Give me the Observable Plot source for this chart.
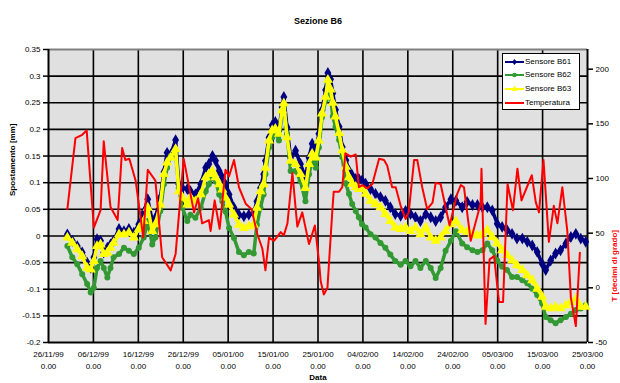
<!DOCTYPE html>
<html><head><meta charset="utf-8">
<script src="https://cdn.jsdelivr.net/npm/d3@7"></script>
<script src="https://cdn.jsdelivr.net/npm/@observablehq/plot@0.6"></script>
<style>
body{margin:0;background:#fff;font-family:"Liberation Sans",Arial,sans-serif;}
#wrap{position:relative;width:620px;height:383px;}
#legend{position:absolute;left:502px;top:53px;width:76px;height:55px;background:#fff;border:1.5px solid #000;}
.row{position:absolute;left:0;height:12px;width:76px;font-size:8px;line-height:12px;color:#000;}
.row svg{position:absolute;left:1px;top:0;}
.row span{position:absolute;left:22px;top:0;white-space:nowrap;}
</style></head><body><div id="wrap"><div id="legend"></div></div>
<script>
// ---- data (days since 26/11/99) ----
const sensorDays = [4.2,5.3,6.4,7.5,8.6,9.4,10.1,10.8,11.6,12.3,13.1,13.8,14.5,15.7,16.8,17.9,19.0,20.1,21.2,22.1,23.1,23.8,24.9,25.7,26.4,27.2,28.3,29.0,29.8,30.9,
31.6,32.7,33.9,35.0,35.7,36.5,37.2,38.0,38.7,39.4,40.2,41.3,42.4,43.5,44.6,45.7,46.4,47.2,47.9,48.3,49.1,49.8,50.5,51.3,52.0,52.4,53.1,53.9,55.0,56.1,57.2,58.0,58.7,59.5,60.2,60.9,61.7,
62.2,62.8,63.3,63.9,64.7,65.4,66.2,66.9,67.6,68.4,69.1,69.8,70.6,71.7,72.8,73.9,75.0,76.1,77.2,78.4,79.5,80.6,81.7,82.8,84.0,85.1,86.2,87.3,88.4,89.6,90.7,
92.1,93.2,94.4,95.5,96.6,97.7,98.8,99.9,101.0,102.1,103.2,104.3,105.5,106.6,107.7,108.8,109.9,110.7,111.8,112.9,114.0,115.2,116.3,117.4,118.5,119.6];
const b61 = [0.003,-0.009,-0.019,-0.031,-0.050,-0.060,-0.040,-0.006,-0.009,-0.031,-0.022,-0.016,-0.009,0.013,0.009,0.013,0.006,0.022,0.044,0.069,0.028,0.034,0.072,0.120,0.156,0.153,0.180,0.097,0.090,0.088,
0.084,0.078,0.097,0.128,0.135,0.150,0.141,0.122,0.110,0.097,0.078,0.053,0.040,0.037,0.040,0.043,0.065,0.090,0.116,0.141,0.185,0.208,0.214,0.198,0.242,0.261,0.204,0.147,0.160,0.135,0.110,0.147,0.173,0.160,0.192,0.236,0.274,
0.306,0.294,0.268,0.237,0.205,0.167,0.142,0.123,0.114,0.107,0.107,0.104,0.098,0.088,0.079,0.073,0.066,0.054,0.041,0.038,0.047,0.041,0.035,0.028,0.041,0.035,0.028,0.035,0.054,0.069,0.066,
0.054,0.064,0.058,0.058,0.054,0.054,0.048,0.023,0.017,0.011,0.004,-0.005,-0.005,-0.011,-0.018,-0.030,-0.052,-0.064,-0.046,-0.033,-0.027,-0.014,-0.002,0.004,-0.005,-0.011];
const b62 = [-0.019,-0.040,-0.053,-0.072,-0.090,-0.106,-0.097,-0.060,-0.047,-0.060,-0.078,-0.060,-0.040,-0.034,-0.022,-0.028,-0.034,-0.022,-0.003,0.028,-0.016,-0.003,0.047,0.097,0.128,0.150,0.159,0.090,0.053,0.028,
0.040,0.034,0.053,0.084,0.097,0.110,0.103,0.078,0.065,0.046,0.015,-0.004,-0.030,-0.036,-0.030,-0.033,0.021,0.053,0.078,0.116,0.166,0.185,0.195,0.179,0.230,0.242,0.192,0.122,0.122,0.103,0.065,0.116,0.141,0.128,0.166,0.223,0.255,
0.288,0.262,0.224,0.205,0.180,0.148,0.098,0.079,0.060,0.047,0.035,0.022,0.016,0.003,-0.003,-0.013,-0.022,-0.035,-0.047,-0.054,-0.047,-0.057,-0.047,-0.060,-0.047,-0.060,-0.079,-0.060,-0.028,-0.009,0.009,
-0.014,-0.021,-0.027,-0.030,-0.027,-0.014,-0.027,-0.046,-0.058,-0.064,-0.077,-0.077,-0.083,-0.089,-0.099,-0.111,-0.127,-0.152,-0.158,-0.164,-0.158,-0.152,-0.146,-0.139,-0.136,-0.130];
const b63 = [-0.003,-0.013,-0.025,-0.038,-0.060,-0.063,-0.047,-0.019,-0.016,-0.034,-0.031,-0.022,-0.013,0.003,0.003,0.006,-0.003,0.013,0.028,0.053,0.009,0.022,0.059,0.116,0.138,0.147,0.163,0.084,0.072,0.059,
0.072,0.065,0.078,0.110,0.116,0.122,0.110,0.097,0.087,0.072,0.059,0.040,0.021,0.015,0.018,0.021,0.053,0.084,0.097,0.128,0.179,0.198,0.201,0.192,0.236,0.249,0.185,0.141,0.135,0.116,0.090,0.135,0.154,0.147,0.179,0.230,0.261,
0.293,0.275,0.250,0.224,0.193,0.161,0.130,0.110,0.098,0.092,0.088,0.088,0.079,0.066,0.060,0.054,0.041,0.028,0.016,0.013,0.016,0.009,0.016,0.003,0.016,-0.003,-0.009,-0.003,0.009,0.022,0.028,
0.011,0.008,0.004,0.001,0.004,0.011,-0.002,-0.014,-0.027,-0.036,-0.046,-0.055,-0.064,-0.074,-0.083,-0.099,-0.114,-0.133,-0.136,-0.133,-0.136,-0.130,-0.124,-0.118,-0.133,-0.133];
const tempDays = [4.2,6.0,7.5,8.5,10.1,11.6,12.3,13.8,15.4,16.4,17.1,18.0,19.4,21.1,22.1,23.8,25.3,27.2,28.3,30.1,32.4,33.3,34.2,35.7,36.1,37.0,38.1,39.4,40.2,41.3,42.4,43.9,45.2,46.5,47.6,48.3,49.1,50.2,51.7,52.4,53.2,54.3,55.4,56.5,58.0,59.3,60.2,60.6,61.3,62.1,63.2,63.5,64.7,65.4,66.1,67.3,68.4,69.1,69.9,71.0,72.1,73.6,74.7,75.4,76.5,77.3,78.4,79.5,80.2,81.4,82.1,83.2,84.3,85.5,86.2,87.3,88.4,89.3,91.0,91.8,92.5,94.0,95.1,96.2,96.4,97.3,98.2,99.2,100.3,101.2,102.2,103.4,104.4,105.3,106.5,107.6,108.5,109.2,110.2,111.4,112.5,113.3,114.4,115.5,116.3,117.4,118.3];
const tempValues = [72,137,140,144,55,71,134,74,62,128,117,118,98,46,108,98,28,16,31,118,69,82,59,62,52,80,54,108,102,117,92,77,72,49,36,16,46,43,51,48,59,105,56,69,40,57,25,6,-6,0,71,88,88,92,123,120,122,92,94,91,95,118,117,112,92,92,75,63,69,117,117,92,72,78,96,95,74,57,86,94,92,43,60,77,109,-33,26,29,-13,-13,95,71,109,80,92,103,78,69,117,42,75,59,92,52,-9,-35,32];
const yTicks = [-0.2,-0.15,-0.1,-0.05,0,0.05,0.1,0.15,0.2,0.25,0.3,0.35];
const tTicks = [-50,0,50,100,150,200];
const xTickDays = [0,10,20,30,40,50,60,70,80,90,100,110,120];
const seriesNames = ["Sensore B61","Sensore B62","Sensore B63","Temperatura"];
const colors = ["#000080","#339933","#ffff00","#ff0000"];

// ---- helpers ----
const t0 = Date.UTC(1999,10,26);
const toDate = d => new Date(t0 + d*864e5);
const yMin=-0.2, yMax=0.35, tMin=-50, tMax=218;
const tToY = t => yMin + (t - tMin)*(yMax - yMin)/(tMax - tMin);
const mk = arr => sensorDays.map((d,i)=>({x:toDate(d), y:arr[i]}));
const s61 = mk(b61), s62 = mk(b62), s63 = mk(b63);
const temp = tempDays.map((d,i)=>({x:toDate(d), y:tToY(tempValues[i])}));
const xTicks = xTickDays.map(toDate);
const fmt = d3.utcFormat("%d/%m/%y");
const FONT = "Liberation Sans, Arial, sans-serif";

const chart = Plot.plot({
  width:620, height:383,
  marginLeft:48, marginRight:33, marginTop:49, marginBottom:41,
  style:{fontFamily:FONT, fontSize:"8px", background:"transparent", color:"#000"},
  x:{type:"utc", domain:[toDate(0), toDate(120)]},
  y:{domain:[yMin,yMax]},
  marks:[
    Plot.frame({fill:"#e0e0e0", stroke:"none"}),
    Plot.ruleY(yTicks.slice(1,-1), {stroke:"#000", strokeWidth:1.6}),
    Plot.ruleX(xTicks.slice(1,-1), {stroke:"#000", strokeWidth:1.6}),
    Plot.ruleY([yMax], {stroke:"#808080", strokeWidth:2}),
    Plot.ruleY([yMin], {stroke:"#000", strokeWidth:2}),
    Plot.ruleX([xTicks[0]], {stroke:"#000", strokeWidth:2}),
    Plot.ruleX([xTicks[xTicks.length-1]], {stroke:"#000", strokeWidth:2}),
    Plot.axisY({ticks:yTicks, tickSize:5, tickPadding:3, tickFormat:v=>String(+v.toFixed(2)), label:null, strokeWidth:1.5}),
    Plot.axisY(tTicks.map(tToY), {anchor:"right", tickSize:5, tickPadding:3, tickFormat:(v,i)=>String(tTicks[i]), label:null, strokeWidth:1.5}),
    Plot.axisX({ticks:xTicks, tickSize:0, tickPadding:9, tickFormat:fmt, label:null}),
    Plot.axisX({ticks:xTicks, tickSize:0, tickPadding:21, tickFormat:()=>"0.00", label:null}),
    // series B61
    Plot.line(s61, {x:"x", y:"y", stroke:colors[0], strokeWidth:3.5}),
    Plot.dot(s61, {x:"x", y:"y", symbol:"diamond", fill:colors[0], r:3.6}),
    // series B62
    Plot.line(s62, {x:"x", y:"y", stroke:colors[1], strokeWidth:3.5}),
    Plot.dot(s62, {x:"x", y:"y", symbol:"circle", fill:colors[1], r:3}),
    // series B63
    Plot.line(s63, {x:"x", y:"y", stroke:colors[2], strokeWidth:3.5}),
    Plot.dot(s63, {x:"x", y:"y", symbol:"triangle", fill:colors[2], r:3.8}),
    // temperature
    Plot.line(temp, {x:"x", y:"y", stroke:colors[3], strokeWidth:2}),
    // titles
    Plot.text(["Sezione B6"], {text:d=>d, frameAnchor:"top", dy:-32, fontWeight:"bold", fontSize:9}),
    Plot.text(["Data"], {text:d=>d, frameAnchor:"bottom", dy:37, fontWeight:"bold", fontSize:8}),
    Plot.text(["Spostamento [mm]"], {text:d=>d, frameAnchor:"left", dx:-36, rotate:-90, fontWeight:"bold", fontSize:8}),
    Plot.text(["T [decimi di grado]"], {text:d=>d, frameAnchor:"right", dx:27, dy:34, rotate:-90, fontWeight:"bold", fontSize:8, fill:"#ff0000"})
  ]
});
document.getElementById("wrap").prepend(chart);

// legend
const lg = document.getElementById("legend");
const symbols = ["diamond","circle","triangle",null];
seriesNames.forEach((name,i)=>{
  const row = document.createElement("div");
  row.className = "row";
  row.style.top = (1.5 + 13.7*i) + "px";
  let mark = "";
  if (symbols[i]==="diamond") mark = `<path d="M10.5,3 L13,6 L10.5,9 L8,6Z" fill="${colors[i]}"/>`;
  if (symbols[i]==="circle") mark = `<circle cx="10.5" cy="6" r="2.3" fill="${colors[i]}"/>`;
  if (symbols[i]==="triangle") mark = `<path d="M10.5,2.5 L13.5,8 L7.5,8Z" fill="${colors[i]}"/>`;
  row.innerHTML = `<svg width="21" height="12"><line x1="1" y1="6" x2="20" y2="6" stroke="${colors[i]}" stroke-width="2"/>${mark}</svg><span>${name}</span>`;
  lg.appendChild(row);
});
</script></body></html>
